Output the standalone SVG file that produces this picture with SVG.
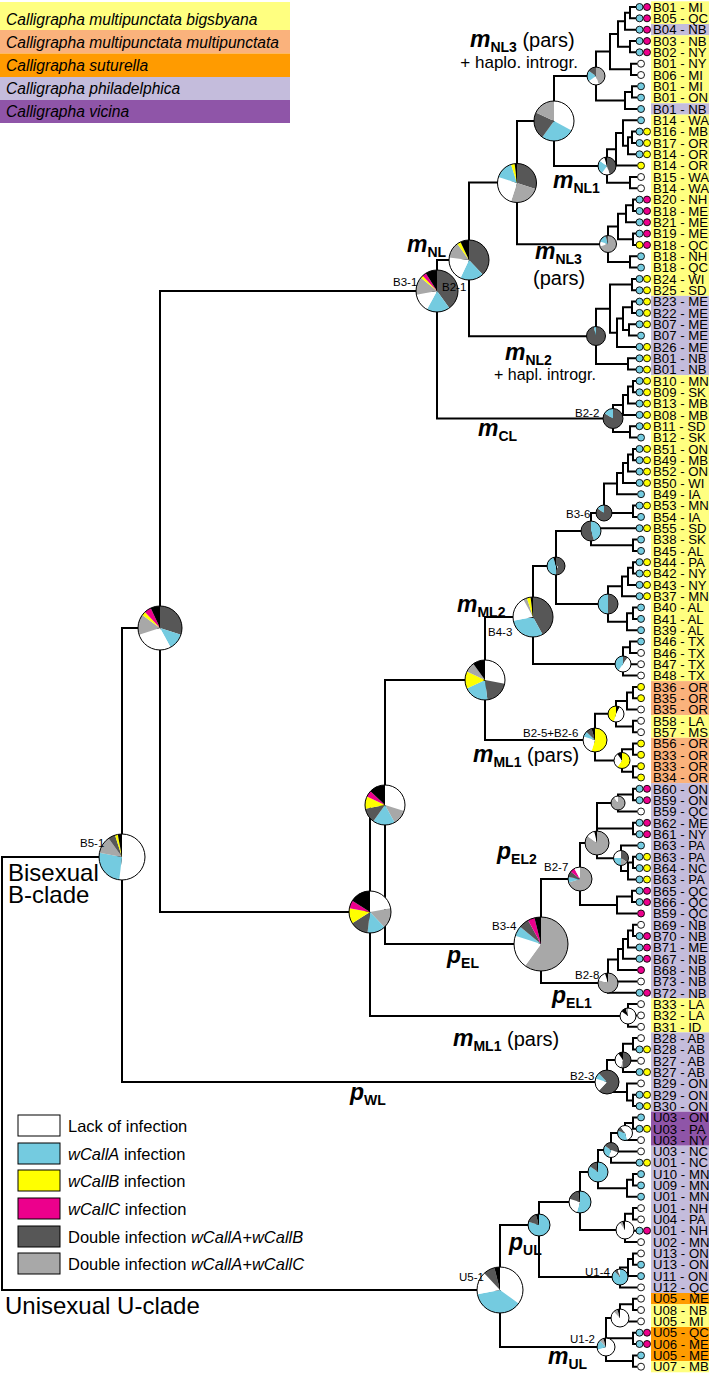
<svg xmlns="http://www.w3.org/2000/svg" width="709" height="1377" viewBox="0 0 709 1377">
<style>
text{font-family:"Liberation Sans",Arial,sans-serif;fill:#000}
.tl{font-size:13.2px}
.nl{font-size:11.5px}
.cm{font-size:23px;font-style:italic;font-weight:bold}
.cs{font-size:14px;font-style:normal;font-weight:bold}
.cp{font-size:20px}
.ch{font-size:17px}
.ch2{font-size:16px}
.big{font-size:24px}
.lg{font-size:16.5px}
.lt{font-size:15.6px;font-style:italic}
.i{font-style:italic}
.tree{fill:none;stroke:#000;stroke-width:2}
.pie circle{fill:none}
.w{stroke:#fff}.a{stroke:#74cbe0}.b{stroke:#ffff00}.c{stroke:#ec008c}.d{stroke:#575757}.g{stroke:#a8a8a8}.k{stroke:#000}
.pie .o{stroke:#000;stroke-width:1px}
.box{stroke:#000;stroke-width:1}
.tc{stroke:#000;stroke-width:0.9}
</style>
<defs>
<circle id="A" r="3.5" class="tc" fill="#74cbe0"/>
<circle id="B" r="3.5" class="tc" fill="#ffff00"/>
<circle id="C" r="3.5" class="tc" fill="#ec008c"/>
<circle id="W" r="3.5" class="tc" fill="#ffffff"/>
<g id="AB"><use href="#A"/><use href="#B" x="7.5"/></g>
<g id="AC"><use href="#A"/><use href="#C" x="7.5"/></g>
<g id="BC"><use href="#B"/><use href="#C" x="7.5"/></g>
</defs>

<g id="species-legend">
<rect x="0" y="2" width="290" height="28" fill="#ffff80"/>
<rect x="0" y="30" width="290" height="23.5" fill="#fab27c"/>
<rect x="0" y="53.5" width="290" height="23.5" fill="#ff9b00"/>
<rect x="0" y="77" width="290" height="23" fill="#c4bcdc"/>
<rect x="0" y="100" width="290" height="23" fill="#8f55a8"/>
<text class="lt" x="6" y="25">Calligrapha multipunctata bigsbyana</text>
<text class="lt" x="6" y="48">Calligrapha multipunctata multipunctata</text>
<text class="lt" x="6" y="71">Calligrapha suturella</text>
<text class="lt" x="6" y="94">Calligrapha philadelphica</text>
<text class="lt" x="6" y="117">Calligrapha vicina</text>
</g>

<g id="label-bands">
<rect x="651" y="1.3" width="58" height="22.7" fill="#ffff80"/>
<rect x="651" y="24" width="58" height="11.3" fill="#c4bcdc"/>
<rect x="651" y="35.3" width="58" height="68" fill="#ffff80"/>
<rect x="651" y="103.3" width="58" height="11.3" fill="#c4bcdc"/>
<rect x="651" y="114.6" width="58" height="181.3" fill="#ffff80"/>
<rect x="651" y="295.9" width="58" height="79.3" fill="#c4bcdc"/>
<rect x="651" y="375.2" width="58" height="305.9" fill="#ffff80"/>
<rect x="651" y="681.1" width="58" height="34" fill="#fab27c"/>
<rect x="651" y="715.1" width="58" height="22.7" fill="#ffff80"/>
<rect x="651" y="737.8" width="58" height="45.3" fill="#fab27c"/>
<rect x="651" y="783.1" width="58" height="215.3" fill="#c4bcdc"/>
<rect x="651" y="998.4" width="58" height="34" fill="#ffff80"/>
<rect x="651" y="1032.4" width="58" height="79.3" fill="#c4bcdc"/>
<rect x="651" y="1111.7" width="58" height="34" fill="#8f55a8"/>
<rect x="651" y="1145.7" width="58" height="147.3" fill="#c4bcdc"/>
<rect x="651" y="1293" width="58" height="11.3" fill="#ff9b00"/>
<rect x="651" y="1304.3" width="58" height="22.7" fill="#ffff80"/>
<rect x="651" y="1327" width="58" height="34" fill="#ff9b00"/>
<rect x="651" y="1361" width="58" height="11.3" fill="#ffff80"/>
</g>

<g id="connectors">
<path class="tree" d="M637 7H630V18.3H637M630 12.65H625V29.7H637M637 41H630V52.3H637M625 21.2H618V46.65H630M637 63.7H631V75H637M618 33.9H610V69.35H631M637 86.3H632V97.6H637M632 91.950H625V109H637M610 51.6H596V100.5H625
M637 131.6H632V143H637M632 137.3H628V154.3H637M637 120.3H623V145.8H628M623 133.05H616V165.6H637M637 177H630V188.3H637M616 149.3H607V182.65H630M596 76H554V166H607
M637 199.6H633V211H637M633 205.3H626V222.3H637M637 233.6H633V244.9H637M626 213.8H618V239.25H633M637 256.3H630V267.6H637M618 226.5H608V261.95H630M554 121H517V244.2H608
M637 278.9H632V290.3H637M637 301.6H632V312.9H637M637 324.3H629V335.6H637M632 307.25H623V329.95H629M623 318.6H617V346.9H637M632 284.6H610V332.75H617M637 358.3H628V369.6H637M610 308.7H596V363.95H628M517 182.6H469V336.3H596
M637 380.9H633V392.3H637M633 386.6H628V403.6H637M628 395.1H623V414.9H637M637 426.2H630V437.6H637M623 405H613V431.9H630M469 260H437V418.5H613
M437 291H160V912H370
M637 448.9H633V460.2H637M633 454.55H628V471.6H637M628 463.1H623V482.9H637M623 473H617V494.2H637M637 505.6H633V516.9H637M617 483.6H604V513H633M637 539.6H633V550.9H637M604 513H591V545.25H633M591 528.2H637
M637 562.2H633V573.5H637M633 567.85H628V584.9H637M628 576.4H622V596.2H637M637 607.5H633V618.9H637M633 613.2H627V630.2H637M622 586.3H608V621.7H627M591 531H556V604H608
M637 641.5H630V652.9H637M630 647.2H623V675.5H637M623 664.2H637M556 566H533V664H623
M637 686.9H633V698.2H637M633 692.55H627V709.5H637M637 720.8H633V732.2H637M627 701H616V726.5H633M637 743.5H633V754.8H637M637 766.2H633V777.5H637M633 749.15H622V771.85H633M616 713.75H595V760.5H622M533 617H485V740H595
M637 788.8H633V800.2H637M633 794.5H618V811.5H637M637 822.8H633V834.2H637M637 856.8H633V868.1H637M633 862.45H628V879.5H637M637 845.5H621V871H628M618 803H597V858.25H621M597 828.5H633
M637 890.8H632V902.1H637M632 896.45H617V913.5H637M597 843H580V905H617
M637 924.8H633V936.1H637M633 930.45H628V947.5H637M628 939H623V958.8H637M623 948.9H618V970.1H637M618 959.5H608V992.8H637M608 981.5H637M580 879H541V983H608M485 680H385V944H541
M637 1004.1H628V1026.8H637M628 1015.4H637M385 805H370V1016H628
M637 1038.1H633V1049.4H637M633 1043.75H623V1072.1H637M623 1060.8H637M637 1094.8H633V1106.1H637M637 1083.4H627V1100.45H633M623 1060H607V1092H627M160 628H122V1082H607M122 857H2V1290H500
M637 1117.4H633V1128.8H637M633 1123.1H625V1140.1H637M625 1133H611V1162.7H637M611 1151.4H637M637 1174.1H633V1185.4H637M633 1179.75H627V1196.7H637M611 1150H598V1188.2H627
M637 1208.1H633V1219.4H637M633 1213.75H625V1242.1H637M625 1230.7H637M598 1172H580V1230H625
M637 1253.4H633V1264.7H637M633 1259H628V1276.1H637M628 1267.6H620V1287.4H637M580 1202H539V1277H620
M637 1298.7H633V1310H637M633 1304.35H620V1321.4H637M637 1332.7H633V1344H637M637 1355.4H633V1366.7H637M620 1318H606V1361.05H633M606 1338.35H633M539 1225H500V1347H606"/>
</g>

<g id="pies">
<g id="node-B5-1" class="pie" transform="translate(122 857) rotate(-90)" stroke-width="23"><circle r="11.5" class="w" pathLength="100" stroke-dasharray="52 100"/><circle r="11.5" class="a" pathLength="100" stroke-dasharray="0 52 26 100"/><circle r="11.5" class="g" pathLength="100" stroke-dasharray="0 78 12 100"/><circle r="11.5" class="d" pathLength="100" stroke-dasharray="0 90 5 100"/><circle r="11.5" class="b" pathLength="100" stroke-dasharray="0 95 2 100"/><circle r="11.5" class="k" pathLength="100" stroke-dasharray="0 97 3 100"/><circle r="23" class="o"/></g>
<g id="node-B-upper" class="pie" transform="translate(160 628) rotate(-90)" stroke-width="22"><circle r="11" class="d" pathLength="100" stroke-dasharray="30 100"/><circle r="11" class="a" pathLength="100" stroke-dasharray="0 30 12 100"/><circle r="11" class="w" pathLength="100" stroke-dasharray="0 42 28 100"/><circle r="11" class="g" pathLength="100" stroke-dasharray="0 70 15 100"/><circle r="11" class="b" pathLength="100" stroke-dasharray="0 85 3 100"/><circle r="11" class="c" pathLength="100" stroke-dasharray="0 88 5 100"/><circle r="11" class="k" pathLength="100" stroke-dasharray="0 93 7 100"/><circle r="22" class="o"/></g>
<g id="node-B3-1" class="pie" transform="translate(437 291) rotate(-90)" stroke-width="21"><circle r="10.5" class="d" pathLength="100" stroke-dasharray="40 100"/><circle r="10.5" class="a" pathLength="100" stroke-dasharray="0 40 18 100"/><circle r="10.5" class="w" pathLength="100" stroke-dasharray="0 58 14 100"/><circle r="10.5" class="g" pathLength="100" stroke-dasharray="0 72 14 100"/><circle r="10.5" class="b" pathLength="100" stroke-dasharray="0 86 2 100"/><circle r="10.5" class="c" pathLength="100" stroke-dasharray="0 88 3 100"/><circle r="10.5" class="k" pathLength="100" stroke-dasharray="0 91 9 100"/><circle r="21" class="o"/></g>
<g id="node-B2-1" class="pie" transform="translate(469 260) rotate(-90)" stroke-width="20"><circle r="10" class="d" pathLength="100" stroke-dasharray="38 100"/><circle r="10" class="a" pathLength="100" stroke-dasharray="0 38 19 100"/><circle r="10" class="w" pathLength="100" stroke-dasharray="0 57 20 100"/><circle r="10" class="g" pathLength="100" stroke-dasharray="0 77 13 100"/><circle r="10" class="b" pathLength="100" stroke-dasharray="0 90 3 100"/><circle r="10" class="k" pathLength="100" stroke-dasharray="0 93 7 100"/><circle r="20" class="o"/></g>
<g id="node-nl-a" class="pie" transform="translate(517 183) rotate(-90)" stroke-width="19.5"><circle r="9.75" class="d" pathLength="100" stroke-dasharray="30 100"/><circle r="9.75" class="g" pathLength="100" stroke-dasharray="0 30 25 100"/><circle r="9.75" class="w" pathLength="100" stroke-dasharray="0 55 25 100"/><circle r="9.75" class="a" pathLength="100" stroke-dasharray="0 80 15 100"/><circle r="9.75" class="b" pathLength="100" stroke-dasharray="0 95 3 100"/><circle r="9.75" class="k" pathLength="100" stroke-dasharray="0 98 2 100"/><circle r="19.5" class="o"/></g>
<g id="node-nl3" class="pie" transform="translate(554 121) rotate(-90)" stroke-width="20"><circle r="10" class="w" pathLength="100" stroke-dasharray="33 100"/><circle r="10" class="a" pathLength="100" stroke-dasharray="0 33 27 100"/><circle r="10" class="d" pathLength="100" stroke-dasharray="0 60 22 100"/><circle r="10" class="g" pathLength="100" stroke-dasharray="0 82 18 100"/><circle r="20" class="o"/></g>
<g id="node-nl3-top" class="pie" transform="translate(596 76) rotate(-90)" stroke-width="9"><circle r="4.5" class="g" pathLength="100" stroke-dasharray="45 100"/><circle r="4.5" class="w" pathLength="100" stroke-dasharray="0 45 20 100"/><circle r="4.5" class="a" pathLength="100" stroke-dasharray="0 65 20 100"/><circle r="4.5" class="d" pathLength="100" stroke-dasharray="0 85 15 100"/><circle r="9" class="o"/></g>
<g id="node-nl1" class="pie" transform="translate(607 166) rotate(-90)" stroke-width="9"><circle r="4.5" class="d" pathLength="100" stroke-dasharray="45 100"/><circle r="4.5" class="w" pathLength="100" stroke-dasharray="0 45 15 100"/><circle r="4.5" class="a" pathLength="100" stroke-dasharray="0 60 25 100"/><circle r="4.5" class="w" pathLength="100" stroke-dasharray="0 85 10 100"/><circle r="4.5" class="k" pathLength="100" stroke-dasharray="0 95 5 100"/><circle r="9" class="o"/></g>
<g id="node-nl3-low" class="pie" transform="translate(608 244) rotate(-90)" stroke-width="8.5"><circle r="4.25" class="g" pathLength="100" stroke-dasharray="70 100"/><circle r="4.25" class="w" pathLength="100" stroke-dasharray="0 70 10 100"/><circle r="4.25" class="a" pathLength="100" stroke-dasharray="0 80 15 100"/><circle r="4.25" class="d" pathLength="100" stroke-dasharray="0 95 5 100"/><circle r="8.5" class="o"/></g>
<g id="node-nl2" class="pie" transform="translate(596 336) rotate(-90)" stroke-width="9.5"><circle r="4.75" class="d" pathLength="100" stroke-dasharray="96 100"/><circle r="4.75" class="a" pathLength="100" stroke-dasharray="0 96 4 100"/><circle r="9.5" class="o"/></g>
<g id="node-B2-2" class="pie" transform="translate(613 418.5) rotate(-90)" stroke-width="10"><circle r="5" class="d" pathLength="100" stroke-dasharray="84 100"/><circle r="5" class="a" pathLength="100" stroke-dasharray="0 84 16 100"/><circle r="10" class="o"/></g>
<g id="node-B3-6" class="pie" transform="translate(604 513) rotate(-90)" stroke-width="8"><circle r="4" class="d" pathLength="100" stroke-dasharray="85 100"/><circle r="4" class="a" pathLength="100" stroke-dasharray="0 85 15 100"/><circle r="8" class="o"/></g>
<g id="node-ml2-a" class="pie" transform="translate(591 531) rotate(-90)" stroke-width="10"><circle r="5" class="a" pathLength="100" stroke-dasharray="45 100"/><circle r="5" class="d" pathLength="100" stroke-dasharray="0 45 55 100"/><circle r="10" class="o"/></g>
<g id="node-ml2-b" class="pie" transform="translate(556 566) rotate(-90)" stroke-width="9"><circle r="4.5" class="d" pathLength="100" stroke-dasharray="50 100"/><circle r="4.5" class="a" pathLength="100" stroke-dasharray="0 50 45 100"/><circle r="4.5" class="k" pathLength="100" stroke-dasharray="0 95 5 100"/><circle r="9" class="o"/></g>
<g id="node-ml2-c" class="pie" transform="translate(608 604) rotate(-90)" stroke-width="10"><circle r="5" class="d" pathLength="100" stroke-dasharray="50 100"/><circle r="5" class="a" pathLength="100" stroke-dasharray="0 50 50 100"/><circle r="10" class="o"/></g>
<g id="node-tx" class="pie" transform="translate(623 664) rotate(-90)" stroke-width="8"><circle r="4" class="d" pathLength="100" stroke-dasharray="10 100"/><circle r="4" class="w" pathLength="100" stroke-dasharray="0 10 50 100"/><circle r="4" class="a" pathLength="100" stroke-dasharray="0 60 40 100"/><circle r="8" class="o"/></g>
<g id="node-B4-3" class="pie" transform="translate(533 617) rotate(-90)" stroke-width="20"><circle r="10" class="d" pathLength="100" stroke-dasharray="42 100"/><circle r="10" class="a" pathLength="100" stroke-dasharray="0 42 30 100"/><circle r="10" class="w" pathLength="100" stroke-dasharray="0 72 20 100"/><circle r="10" class="g" pathLength="100" stroke-dasharray="0 92 3 100"/><circle r="10" class="b" pathLength="100" stroke-dasharray="0 95 3 100"/><circle r="10" class="k" pathLength="100" stroke-dasharray="0 98 2 100"/><circle r="20" class="o"/></g>
<g id="node-ml" class="pie" transform="translate(485 680) rotate(-90)" stroke-width="20"><circle r="10" class="w" pathLength="100" stroke-dasharray="28 100"/><circle r="10" class="d" pathLength="100" stroke-dasharray="0 28 20 100"/><circle r="10" class="a" pathLength="100" stroke-dasharray="0 48 20 100"/><circle r="10" class="b" pathLength="100" stroke-dasharray="0 68 14 100"/><circle r="10" class="g" pathLength="100" stroke-dasharray="0 82 8 100"/><circle r="10" class="k" pathLength="100" stroke-dasharray="0 90 10 100"/><circle r="20" class="o"/></g>
<g id="node-ml1-a" class="pie" transform="translate(616 714) rotate(-90)" stroke-width="8"><circle r="4" class="k" pathLength="100" stroke-dasharray="8 100"/><circle r="4" class="w" pathLength="100" stroke-dasharray="0 8 47 100"/><circle r="4" class="b" pathLength="100" stroke-dasharray="0 55 45 100"/><circle r="8" class="o"/></g>
<g id="node-ml1-b" class="pie" transform="translate(622 760.5) rotate(-90)" stroke-width="8"><circle r="4" class="b" pathLength="100" stroke-dasharray="60 100"/><circle r="4" class="w" pathLength="100" stroke-dasharray="0 60 30 100"/><circle r="4" class="k" pathLength="100" stroke-dasharray="0 90 10 100"/><circle r="8" class="o"/></g>
<g id="node-B2-5-B2-6" class="pie" transform="translate(595 740) rotate(-90)" stroke-width="12"><circle r="6" class="b" pathLength="100" stroke-dasharray="55 100"/><circle r="6" class="w" pathLength="100" stroke-dasharray="0 55 25 100"/><circle r="6" class="a" pathLength="100" stroke-dasharray="0 80 7 100"/><circle r="6" class="d" pathLength="100" stroke-dasharray="0 87 8 100"/><circle r="6" class="k" pathLength="100" stroke-dasharray="0 95 5 100"/><circle r="12" class="o"/></g>
<g id="node-b-mid" class="pie" transform="translate(385 805) rotate(-90)" stroke-width="20"><circle r="10" class="w" pathLength="100" stroke-dasharray="30 100"/><circle r="10" class="g" pathLength="100" stroke-dasharray="0 30 12 100"/><circle r="10" class="a" pathLength="100" stroke-dasharray="0 42 18 100"/><circle r="10" class="d" pathLength="100" stroke-dasharray="0 60 12 100"/><circle r="10" class="b" pathLength="100" stroke-dasharray="0 72 10 100"/><circle r="10" class="c" pathLength="100" stroke-dasharray="0 82 5 100"/><circle r="10" class="k" pathLength="100" stroke-dasharray="0 87 13 100"/><circle r="20" class="o"/></g>
<g id="node-b-low" class="pie" transform="translate(370 912) rotate(-90)" stroke-width="21"><circle r="10.5" class="w" pathLength="100" stroke-dasharray="22 100"/><circle r="10.5" class="g" pathLength="100" stroke-dasharray="0 22 16 100"/><circle r="10.5" class="a" pathLength="100" stroke-dasharray="0 38 14 100"/><circle r="10.5" class="d" pathLength="100" stroke-dasharray="0 52 14 100"/><circle r="10.5" class="b" pathLength="100" stroke-dasharray="0 66 12 100"/><circle r="10.5" class="c" pathLength="100" stroke-dasharray="0 78 6 100"/><circle r="10.5" class="k" pathLength="100" stroke-dasharray="0 84 16 100"/><circle r="21" class="o"/></g>
<g id="node-el2-a" class="pie" transform="translate(618 803) rotate(-90)" stroke-width="7"><circle r="3.5" class="g" pathLength="100" stroke-dasharray="90 100"/><circle r="3.5" class="w" pathLength="100" stroke-dasharray="0 90 10 100"/><circle r="7" class="o"/></g>
<g id="node-el2-b" class="pie" transform="translate(621 858) rotate(-90)" stroke-width="7.5"><circle r="3.75" class="d" pathLength="100" stroke-dasharray="35 100"/><circle r="3.75" class="g" pathLength="100" stroke-dasharray="0 35 15 100"/><circle r="3.75" class="a" pathLength="100" stroke-dasharray="0 50 25 100"/><circle r="3.75" class="w" pathLength="100" stroke-dasharray="0 75 25 100"/><circle r="7.5" class="o"/></g>
<g id="node-el2" class="pie" transform="translate(597 843) rotate(-90)" stroke-width="12"><circle r="6" class="g" pathLength="100" stroke-dasharray="85 100"/><circle r="6" class="w" pathLength="100" stroke-dasharray="0 85 11 100"/><circle r="6" class="k" pathLength="100" stroke-dasharray="0 96 4 100"/><circle r="12" class="o"/></g>
<g id="node-B2-7" class="pie" transform="translate(580 879) rotate(-90)" stroke-width="12"><circle r="6" class="g" pathLength="100" stroke-dasharray="70 100"/><circle r="6" class="a" pathLength="100" stroke-dasharray="0 70 8 100"/><circle r="6" class="d" pathLength="100" stroke-dasharray="0 78 8 100"/><circle r="6" class="c" pathLength="100" stroke-dasharray="0 86 6 100"/><circle r="6" class="w" pathLength="100" stroke-dasharray="0 92 8 100"/><circle r="12" class="o"/></g>
<g id="node-B3-4" class="pie" transform="translate(541 944) rotate(-90)" stroke-width="27"><circle r="13.5" class="g" pathLength="100" stroke-dasharray="60 100"/><circle r="13.5" class="w" pathLength="100" stroke-dasharray="0 60 20 100"/><circle r="13.5" class="a" pathLength="100" stroke-dasharray="0 80 6 100"/><circle r="13.5" class="d" pathLength="100" stroke-dasharray="0 86 6 100"/><circle r="13.5" class="c" pathLength="100" stroke-dasharray="0 92 4 100"/><circle r="13.5" class="k" pathLength="100" stroke-dasharray="0 96 4 100"/><circle r="27" class="o"/></g>
<g id="node-B2-8" class="pie" transform="translate(608 983) rotate(-90)" stroke-width="10"><circle r="5" class="g" pathLength="100" stroke-dasharray="80 100"/><circle r="5" class="w" pathLength="100" stroke-dasharray="0 80 15 100"/><circle r="5" class="k" pathLength="100" stroke-dasharray="0 95 5 100"/><circle r="10" class="o"/></g>
<g id="node-ml1-low" class="pie" transform="translate(628 1016) rotate(-90)" stroke-width="8"><circle r="4" class="w" pathLength="100" stroke-dasharray="85 100"/><circle r="4" class="k" pathLength="100" stroke-dasharray="0 85 10 100"/><circle r="4" class="g" pathLength="100" stroke-dasharray="0 95 5 100"/><circle r="8" class="o"/></g>
<g id="node-wl-a" class="pie" transform="translate(623 1060) rotate(-90)" stroke-width="8"><circle r="4" class="d" pathLength="100" stroke-dasharray="50 100"/><circle r="4" class="g" pathLength="100" stroke-dasharray="0 50 5 100"/><circle r="4" class="w" pathLength="100" stroke-dasharray="0 55 35 100"/><circle r="4" class="k" pathLength="100" stroke-dasharray="0 90 10 100"/><circle r="8" class="o"/></g>
<g id="node-B2-3" class="pie" transform="translate(607 1082) rotate(-90)" stroke-width="12"><circle r="6" class="d" pathLength="100" stroke-dasharray="62 100"/><circle r="6" class="w" pathLength="100" stroke-dasharray="0 62 18 100"/><circle r="6" class="a" pathLength="100" stroke-dasharray="0 80 8 100"/><circle r="6" class="d" pathLength="100" stroke-dasharray="0 88 12 100"/><circle r="12" class="o"/></g>
<g id="node-u-a" class="pie" transform="translate(625 1133) rotate(-90)" stroke-width="7.5"><circle r="3.75" class="w" pathLength="100" stroke-dasharray="45 100"/><circle r="3.75" class="a" pathLength="100" stroke-dasharray="0 45 35 100"/><circle r="3.75" class="d" pathLength="100" stroke-dasharray="0 80 10 100"/><circle r="3.75" class="w" pathLength="100" stroke-dasharray="0 90 10 100"/><circle r="7.5" class="o"/></g>
<g id="node-u-b" class="pie" transform="translate(611 1150) rotate(-90)" stroke-width="7.5"><circle r="3.75" class="d" pathLength="100" stroke-dasharray="30 100"/><circle r="3.75" class="w" pathLength="100" stroke-dasharray="0 30 25 100"/><circle r="3.75" class="a" pathLength="100" stroke-dasharray="0 55 30 100"/><circle r="3.75" class="d" pathLength="100" stroke-dasharray="0 85 15 100"/><circle r="7.5" class="o"/></g>
<g id="node-u-c" class="pie" transform="translate(598 1172) rotate(-90)" stroke-width="10"><circle r="5" class="a" pathLength="100" stroke-dasharray="85 100"/><circle r="5" class="d" pathLength="100" stroke-dasharray="0 85 12 100"/><circle r="5" class="k" pathLength="100" stroke-dasharray="0 97 3 100"/><circle r="10" class="o"/></g>
<g id="node-u-d" class="pie" transform="translate(625 1230) rotate(-90)" stroke-width="9"><circle r="4.5" class="w" pathLength="100" stroke-dasharray="90 100"/><circle r="4.5" class="g" pathLength="100" stroke-dasharray="0 90 5 100"/><circle r="4.5" class="k" pathLength="100" stroke-dasharray="0 95 5 100"/><circle r="9" class="o"/></g>
<g id="node-u-e" class="pie" transform="translate(580 1202) rotate(-90)" stroke-width="11"><circle r="5.5" class="a" pathLength="100" stroke-dasharray="55 100"/><circle r="5.5" class="w" pathLength="100" stroke-dasharray="0 55 25 100"/><circle r="5.5" class="d" pathLength="100" stroke-dasharray="0 80 17 100"/><circle r="5.5" class="k" pathLength="100" stroke-dasharray="0 97 3 100"/><circle r="11" class="o"/></g>
<g id="node-U1-4" class="pie" transform="translate(620 1277) rotate(-90)" stroke-width="8"><circle r="4" class="a" pathLength="100" stroke-dasharray="88 100"/><circle r="4" class="d" pathLength="100" stroke-dasharray="0 88 7 100"/><circle r="4" class="w" pathLength="100" stroke-dasharray="0 95 5 100"/><circle r="8" class="o"/></g>
<g id="node-pUL" class="pie" transform="translate(539 1225) rotate(-90)" stroke-width="11"><circle r="5.5" class="a" pathLength="100" stroke-dasharray="80 100"/><circle r="5.5" class="d" pathLength="100" stroke-dasharray="0 80 15 100"/><circle r="5.5" class="k" pathLength="100" stroke-dasharray="0 95 5 100"/><circle r="11" class="o"/></g>
<g id="node-ul-a" class="pie" transform="translate(620 1318) rotate(-90)" stroke-width="9"><circle r="4.5" class="w" pathLength="100" stroke-dasharray="88 100"/><circle r="4.5" class="g" pathLength="100" stroke-dasharray="0 88 7 100"/><circle r="4.5" class="k" pathLength="100" stroke-dasharray="0 95 5 100"/><circle r="9" class="o"/></g>
<g id="node-U1-2" class="pie" transform="translate(606 1347) rotate(-90)" stroke-width="9"><circle r="4.5" class="w" pathLength="100" stroke-dasharray="70 100"/><circle r="4.5" class="a" pathLength="100" stroke-dasharray="0 70 18 100"/><circle r="4.5" class="g" pathLength="100" stroke-dasharray="0 88 7 100"/><circle r="4.5" class="k" pathLength="100" stroke-dasharray="0 95 5 100"/><circle r="9" class="o"/></g>
<g id="node-U5-1" class="pie" transform="translate(500 1290) rotate(-90)" stroke-width="23"><circle r="11.5" class="w" pathLength="100" stroke-dasharray="35 100"/><circle r="11.5" class="a" pathLength="100" stroke-dasharray="0 35 37 100"/><circle r="11.5" class="w" pathLength="100" stroke-dasharray="0 72 16 100"/><circle r="11.5" class="d" pathLength="100" stroke-dasharray="0 88 8 100"/><circle r="11.5" class="k" pathLength="100" stroke-dasharray="0 96 4 100"/><circle r="23" class="o"/></g>
</g>

<g id="tips">
<g id="tip-1"><use href="#AC" x="639.5" y="7"/><text class="tl" x="653" y="11.7">B01 - MI</text></g>
<g id="tip-2"><use href="#AC" x="639.5" y="18.3"/><text class="tl" x="653" y="23">B05 - QC</text></g>
<g id="tip-3"><use href="#AC" x="639.5" y="29.7"/><text class="tl" x="653" y="34.4">B04 - NB</text></g>
<g id="tip-4"><use href="#AC" x="639.5" y="41"/><text class="tl" x="653" y="45.7">B03 - NB</text></g>
<g id="tip-5"><use href="#AC" x="639.5" y="52.3"/><text class="tl" x="653" y="57">B02 - NY</text></g>
<g id="tip-6"><use href="#W" x="641" y="63.7"/><text class="tl" x="653" y="68.4">B01 - NY</text></g>
<g id="tip-7"><use href="#W" x="641" y="75"/><text class="tl" x="653" y="79.7">B06 - MI</text></g>
<g id="tip-8"><use href="#A" x="641" y="86.3"/><text class="tl" x="653" y="91">B01 - MI</text></g>
<g id="tip-9"><use href="#A" x="641" y="97.6"/><text class="tl" x="653" y="102.3">B01 - ON</text></g>
<g id="tip-10"><use href="#A" x="641" y="109"/><text class="tl" x="653" y="113.7">B01 - NB</text></g>
<g id="tip-11"><use href="#A" x="641" y="120.3"/><text class="tl" x="653" y="125">B14 - WA</text></g>
<g id="tip-12"><use href="#AB" x="639.5" y="131.6"/><text class="tl" x="653" y="136.3">B16 - MB</text></g>
<g id="tip-13"><use href="#AB" x="639.5" y="143"/><text class="tl" x="653" y="147.7">B17 - OR</text></g>
<g id="tip-14"><use href="#AB" x="639.5" y="154.3"/><text class="tl" x="653" y="159">B14 - OR</text></g>
<g id="tip-15"><use href="#B" x="641" y="165.6"/><text class="tl" x="653" y="170.3">B14 - OR</text></g>
<g id="tip-16"><use href="#W" x="641" y="177"/><text class="tl" x="653" y="181.7">B15 - WA</text></g>
<g id="tip-17"><use href="#W" x="641" y="188.3"/><text class="tl" x="653" y="193">B14 - WA</text></g>
<g id="tip-18"><use href="#AC" x="639.5" y="199.6"/><text class="tl" x="653" y="204.3">B20 - NH</text></g>
<g id="tip-19"><use href="#AC" x="639.5" y="211"/><text class="tl" x="653" y="215.7">B18 - ME</text></g>
<g id="tip-20"><use href="#AC" x="639.5" y="222.3"/><text class="tl" x="653" y="227">B21 - ME</text></g>
<g id="tip-21"><use href="#AC" x="639.5" y="233.6"/><text class="tl" x="653" y="238.3">B19 - ME</text></g>
<g id="tip-22"><use href="#BC" x="639.5" y="244.9"/><text class="tl" x="653" y="249.6">B18 - QC</text></g>
<g id="tip-23"><use href="#A" x="641" y="256.3"/><text class="tl" x="653" y="261">B18 - NH</text></g>
<g id="tip-24"><use href="#A" x="641" y="267.6"/><text class="tl" x="653" y="272.3">B18 - QC</text></g>
<g id="tip-25"><use href="#AB" x="639.5" y="278.9"/><text class="tl" x="653" y="283.6">B24 - WI</text></g>
<g id="tip-26"><use href="#AB" x="639.5" y="290.3"/><text class="tl" x="653" y="295">B25 - SD</text></g>
<g id="tip-27"><use href="#AB" x="639.5" y="301.6"/><text class="tl" x="653" y="306.3">B23 - ME</text></g>
<g id="tip-28"><use href="#AB" x="639.5" y="312.9"/><text class="tl" x="653" y="317.6">B22 - ME</text></g>
<g id="tip-29"><use href="#AB" x="639.5" y="324.3"/><text class="tl" x="653" y="329">B07 - ME</text></g>
<g id="tip-30"><use href="#A" x="641" y="335.6"/><text class="tl" x="653" y="340.3">B07 - ME</text></g>
<g id="tip-31"><use href="#AB" x="639.5" y="346.9"/><text class="tl" x="653" y="351.6">B26 - ME</text></g>
<g id="tip-32"><use href="#AB" x="639.5" y="358.3"/><text class="tl" x="653" y="363">B01 - NB</text></g>
<g id="tip-33"><use href="#AB" x="639.5" y="369.6"/><text class="tl" x="653" y="374.3">B01 - NB</text></g>
<g id="tip-34"><use href="#AB" x="639.5" y="380.9"/><text class="tl" x="653" y="385.6">B10 - MN</text></g>
<g id="tip-35"><use href="#AB" x="639.5" y="392.3"/><text class="tl" x="653" y="397">B09 - SK</text></g>
<g id="tip-36"><use href="#AB" x="639.5" y="403.6"/><text class="tl" x="653" y="408.3">B13 - MB</text></g>
<g id="tip-37"><use href="#AB" x="639.5" y="414.9"/><text class="tl" x="653" y="419.6">B08 - MB</text></g>
<g id="tip-38"><use href="#AB" x="639.5" y="426.2"/><text class="tl" x="653" y="430.9">B11 - SD</text></g>
<g id="tip-39"><use href="#A" x="641" y="437.6"/><text class="tl" x="653" y="442.3">B12 - SK</text></g>
<g id="tip-40"><use href="#AB" x="639.5" y="448.9"/><text class="tl" x="653" y="453.6">B51 - ON</text></g>
<g id="tip-41"><use href="#AB" x="639.5" y="460.2"/><text class="tl" x="653" y="464.9">B49 - MB</text></g>
<g id="tip-42"><use href="#AB" x="639.5" y="471.6"/><text class="tl" x="653" y="476.3">B52 - ON</text></g>
<g id="tip-43"><use href="#AB" x="639.5" y="482.9"/><text class="tl" x="653" y="487.6">B50 - WI</text></g>
<g id="tip-44"><use href="#A" x="641" y="494.2"/><text class="tl" x="653" y="498.9">B49 - IA</text></g>
<g id="tip-45"><use href="#AB" x="639.5" y="505.6"/><text class="tl" x="653" y="510.3">B53 - MN</text></g>
<g id="tip-46"><use href="#A" x="641" y="516.9"/><text class="tl" x="653" y="521.6">B54 - IA</text></g>
<g id="tip-47"><use href="#AB" x="639.5" y="528.2"/><text class="tl" x="653" y="532.9">B55 - SD</text></g>
<g id="tip-48"><use href="#A" x="641" y="539.6"/><text class="tl" x="653" y="544.3">B38 - SK</text></g>
<g id="tip-49"><use href="#A" x="641" y="550.9"/><text class="tl" x="653" y="555.6">B45 - AL</text></g>
<g id="tip-50"><use href="#AB" x="639.5" y="562.2"/><text class="tl" x="653" y="566.9">B44 - PA</text></g>
<g id="tip-51"><use href="#AB" x="639.5" y="573.5"/><text class="tl" x="653" y="578.2">B42 - NY</text></g>
<g id="tip-52"><use href="#AB" x="639.5" y="584.9"/><text class="tl" x="653" y="589.6">B43 - NY</text></g>
<g id="tip-53"><use href="#AB" x="639.5" y="596.2"/><text class="tl" x="653" y="600.9">B37 - MN</text></g>
<g id="tip-54"><use href="#A" x="641" y="607.5"/><text class="tl" x="653" y="612.2">B40 - AL</text></g>
<g id="tip-55"><use href="#A" x="641" y="618.9"/><text class="tl" x="653" y="623.6">B41 - AL</text></g>
<g id="tip-56"><use href="#A" x="641" y="630.2"/><text class="tl" x="653" y="634.9">B39 - AL</text></g>
<g id="tip-57"><use href="#A" x="641" y="641.5"/><text class="tl" x="653" y="646.2">B46 - TX</text></g>
<g id="tip-58"><use href="#W" x="641" y="652.9"/><text class="tl" x="653" y="657.6">B46 - TX</text></g>
<g id="tip-59"><use href="#W" x="641" y="664.2"/><text class="tl" x="653" y="668.9">B47 - TX</text></g>
<g id="tip-60"><use href="#W" x="641" y="675.5"/><text class="tl" x="653" y="680.2">B48 - TX</text></g>
<g id="tip-61"><use href="#B" x="641" y="686.9"/><text class="tl" x="653" y="691.6">B36 - OR</text></g>
<g id="tip-62"><use href="#B" x="641" y="698.2"/><text class="tl" x="653" y="702.9">B35 - OR</text></g>
<g id="tip-63"><use href="#W" x="641" y="709.5"/><text class="tl" x="653" y="714.2">B35 - OR</text></g>
<g id="tip-64"><use href="#W" x="641" y="720.8"/><text class="tl" x="653" y="725.5">B58 - LA</text></g>
<g id="tip-65"><use href="#W" x="641" y="732.2"/><text class="tl" x="653" y="736.9">B57 - MS</text></g>
<g id="tip-66"><use href="#B" x="641" y="743.5"/><text class="tl" x="653" y="748.2">B56 - OR</text></g>
<g id="tip-67"><use href="#B" x="641" y="754.8"/><text class="tl" x="653" y="759.5">B33 - OR</text></g>
<g id="tip-68"><use href="#B" x="641" y="766.2"/><text class="tl" x="653" y="770.9">B33 - OR</text></g>
<g id="tip-69"><use href="#B" x="641" y="777.5"/><text class="tl" x="653" y="782.2">B34 - OR</text></g>
<g id="tip-70"><use href="#AC" x="639.5" y="788.8"/><text class="tl" x="653" y="793.5">B60 - ON</text></g>
<g id="tip-71"><use href="#AC" x="639.5" y="800.2"/><text class="tl" x="653" y="804.9">B59 - ON</text></g>
<g id="tip-72"><use href="#W" x="641" y="811.5"/><text class="tl" x="653" y="816.2">B59 - QC</text></g>
<g id="tip-73"><use href="#AC" x="639.5" y="822.8"/><text class="tl" x="653" y="827.5">B62 - ME</text></g>
<g id="tip-74"><use href="#AC" x="639.5" y="834.2"/><text class="tl" x="653" y="838.9">B61 - NY</text></g>
<g id="tip-75"><use href="#A" x="641" y="845.5"/><text class="tl" x="653" y="850.2">B63 - PA</text></g>
<g id="tip-76"><use href="#AB" x="639.5" y="856.8"/><text class="tl" x="653" y="861.5">B63 - PA</text></g>
<g id="tip-77"><use href="#AB" x="639.5" y="868.1"/><text class="tl" x="653" y="872.8">B64 - NC</text></g>
<g id="tip-78"><use href="#AB" x="639.5" y="879.5"/><text class="tl" x="653" y="884.2">B63 - PA</text></g>
<g id="tip-79"><use href="#AC" x="639.5" y="890.8"/><text class="tl" x="653" y="895.5">B65 - QC</text></g>
<g id="tip-80"><use href="#AC" x="639.5" y="902.1"/><text class="tl" x="653" y="906.8">B66 - QC</text></g>
<g id="tip-81"><use href="#C" x="641" y="913.5"/><text class="tl" x="653" y="918.2">B59 - QC</text></g>
<g id="tip-82"><use href="#W" x="641" y="924.8"/><text class="tl" x="653" y="929.5">B69 - NB</text></g>
<g id="tip-83"><use href="#AC" x="639.5" y="936.1"/><text class="tl" x="653" y="940.8">B70 - NB</text></g>
<g id="tip-84"><use href="#AC" x="639.5" y="947.5"/><text class="tl" x="653" y="952.2">B71 - ME</text></g>
<g id="tip-85"><use href="#AC" x="639.5" y="958.8"/><text class="tl" x="653" y="963.5">B67 - NB</text></g>
<g id="tip-86"><use href="#C" x="641" y="970.1"/><text class="tl" x="653" y="974.8">B68 - NB</text></g>
<g id="tip-87"><use href="#W" x="641" y="981.5"/><text class="tl" x="653" y="986.2">B73 - NB</text></g>
<g id="tip-88"><use href="#AC" x="639.5" y="992.8"/><text class="tl" x="653" y="997.5">B72 - NB</text></g>
<g id="tip-89"><use href="#W" x="641" y="1004.1"/><text class="tl" x="653" y="1008.8">B33 - LA</text></g>
<g id="tip-90"><use href="#W" x="641" y="1015.4"/><text class="tl" x="653" y="1020.1">B32 - LA</text></g>
<g id="tip-91"><use href="#W" x="641" y="1026.8"/><text class="tl" x="653" y="1031.5">B31 - ID</text></g>
<g id="tip-92"><use href="#W" x="641" y="1038.1"/><text class="tl" x="653" y="1042.8">B28 - AB</text></g>
<g id="tip-93"><use href="#AB" x="639.5" y="1049.4"/><text class="tl" x="653" y="1054.1">B28 - AB</text></g>
<g id="tip-94"><use href="#W" x="641" y="1060.8"/><text class="tl" x="653" y="1065.5">B27 - AB</text></g>
<g id="tip-95"><use href="#AB" x="639.5" y="1072.1"/><text class="tl" x="653" y="1076.8">B27 - AB</text></g>
<g id="tip-96"><use href="#W" x="641" y="1083.4"/><text class="tl" x="653" y="1088.1">B29 - ON</text></g>
<g id="tip-97"><use href="#AB" x="639.5" y="1094.8"/><text class="tl" x="653" y="1099.5">B29 - ON</text></g>
<g id="tip-98"><use href="#AB" x="639.5" y="1106.1"/><text class="tl" x="653" y="1110.8">B30 - ON</text></g>
<g id="tip-99"><use href="#A" x="641" y="1117.4"/><text class="tl" x="653" y="1122.1">U03 - ON</text></g>
<g id="tip-100"><use href="#AB" x="639.5" y="1128.8"/><text class="tl" x="653" y="1133.5">U03 - PA</text></g>
<g id="tip-101"><use href="#W" x="641" y="1140.1"/><text class="tl" x="653" y="1144.8">U03 - NY</text></g>
<g id="tip-102"><use href="#W" x="641" y="1151.4"/><text class="tl" x="653" y="1156.1">U03 - NC</text></g>
<g id="tip-103"><use href="#AB" x="639.5" y="1162.7"/><text class="tl" x="653" y="1167.4">U01 - NC</text></g>
<g id="tip-104"><use href="#A" x="641" y="1174.1"/><text class="tl" x="653" y="1178.8">U10 - MN</text></g>
<g id="tip-105"><use href="#A" x="641" y="1185.4"/><text class="tl" x="653" y="1190.1">U09 - MN</text></g>
<g id="tip-106"><use href="#A" x="641" y="1196.7"/><text class="tl" x="653" y="1201.4">U01 - MN</text></g>
<g id="tip-107"><use href="#W" x="641" y="1208.1"/><text class="tl" x="653" y="1212.8">U01 - NH</text></g>
<g id="tip-108"><use href="#W" x="641" y="1219.4"/><text class="tl" x="653" y="1224.1">U04 - PA</text></g>
<g id="tip-109"><use href="#AC" x="639.5" y="1230.7"/><text class="tl" x="653" y="1235.4">U01 - NH</text></g>
<g id="tip-110"><use href="#W" x="641" y="1242.1"/><text class="tl" x="653" y="1246.8">U02 - MN</text></g>
<g id="tip-111"><use href="#W" x="641" y="1253.4"/><text class="tl" x="653" y="1258.1">U13 - ON</text></g>
<g id="tip-112"><use href="#A" x="641" y="1264.7"/><text class="tl" x="653" y="1269.4">U13 - ON</text></g>
<g id="tip-113"><use href="#A" x="641" y="1276.1"/><text class="tl" x="653" y="1280.8">U11 - ON</text></g>
<g id="tip-114"><use href="#W" x="641" y="1287.4"/><text class="tl" x="653" y="1292.1">U12 - QC</text></g>
<g id="tip-115"><use href="#W" x="641" y="1298.7"/><text class="tl" x="653" y="1303.4">U05 - ME</text></g>
<g id="tip-116"><use href="#W" x="641" y="1310"/><text class="tl" x="653" y="1314.7">U08 - NB</text></g>
<g id="tip-117"><use href="#W" x="641" y="1321.4"/><text class="tl" x="653" y="1326.1">U05 - MI</text></g>
<g id="tip-118"><use href="#AC" x="639.5" y="1332.7"/><text class="tl" x="653" y="1337.4">U05 - QC</text></g>
<g id="tip-119"><use href="#AC" x="639.5" y="1344"/><text class="tl" x="653" y="1348.7">U06 - ME</text></g>
<g id="tip-120"><use href="#A" x="641" y="1355.4"/><text class="tl" x="653" y="1360.1">U05 - ME</text></g>
<g id="tip-121"><use href="#W" x="641" y="1366.7"/><text class="tl" x="653" y="1371.4">U07 - MB</text></g>
</g>

<g id="node-labels">
<text class="nl" x="80" y="847">B5-1</text>
<text class="nl" x="393" y="286">B3-1</text>
<text class="nl" x="442" y="291">B2-1</text>
<text class="nl" x="575" y="417">B2-2</text>
<text class="nl" x="566" y="518">B3-6</text>
<text class="nl" x="488" y="636">B4-3</text>
<text class="nl" x="523" y="737">B2-5+B2-6</text>
<text class="nl" x="544" y="871">B2-7</text>
<text class="nl" x="492" y="930">B3-4</text>
<text class="nl" x="575" y="979">B2-8</text>
<text class="nl" x="570" y="1080">B2-3</text>
<text class="nl" x="585" y="1276">U1-4</text>
<text class="nl" x="459" y="1281">U5-1</text>
<text class="nl" x="570" y="1343">U1-2</text>
</g>

<g id="clade-labels">
<text class="cp" x="470" y="47"><tspan class="cm">m</tspan><tspan class="cs" dy="5">NL3</tspan><tspan dy="-5"> (pars)</tspan></text>
<text class="ch" x="578" y="68" text-anchor="end">+ haplo. introgr.</text>
<text class="cm" x="553" y="188">m<tspan class="cs" dy="5">NL1</tspan></text>
<text class="cm" x="535" y="259">m<tspan class="cs" dy="5">NL3</tspan></text>
<text class="cp" x="533" y="285">(pars)</text>
<text class="cm" x="407" y="252">m<tspan class="cs" dy="5">NL</tspan></text>
<text class="cm" x="505" y="360">m<tspan class="cs" dy="5">NL2</tspan></text>
<text class="ch2" x="494" y="380">+ hapl. introgr.</text>
<text class="cm" x="478" y="436">m<tspan class="cs" dy="5">CL</tspan></text>
<text class="cm" x="457" y="612">m<tspan class="cs" dy="5">ML2</tspan></text>
<text class="cp" x="473" y="762"><tspan class="cm">m</tspan><tspan class="cs" dy="5">ML1</tspan><tspan dy="-5"> (pars)</tspan></text>
<text class="cm" x="497" y="859">p<tspan class="cs" dy="5">EL2</tspan></text>
<text class="cm" x="447" y="963">p<tspan class="cs" dy="5">EL</tspan></text>
<text class="cm" x="552" y="1003">p<tspan class="cs" dy="5">EL1</tspan></text>
<text class="cp" x="453" y="1046"><tspan class="cm">m</tspan><tspan class="cs" dy="5">ML1</tspan><tspan dy="-5"> (pars)</tspan></text>
<text class="cm" x="350" y="1100">p<tspan class="cs" dy="5">WL</tspan></text>
<text class="cm" x="509" y="1250">p<tspan class="cs" dy="5">UL</tspan></text>
<text class="cm" x="548" y="1364">m<tspan class="cs" dy="5">UL</tspan></text>
<text class="big" x="8" y="881">Bisexual</text>
<text class="big" x="8" y="903">B-clade</text>
<text class="big" x="5" y="1314">Unisexual U-clade</text>
</g>

<g id="infection-legend">
<rect class="box" x="18" y="1115" width="42" height="21" fill="#ffffff"/>
<rect class="box" x="18" y="1143" width="42" height="21" fill="#74cbe0"/>
<rect class="box" x="18" y="1170" width="42" height="21" fill="#ffff00"/>
<rect class="box" x="18" y="1198" width="42" height="21" fill="#ec008c"/>
<rect class="box" x="18" y="1226" width="42" height="21" fill="#575757"/>
<rect class="box" x="18" y="1253" width="42" height="21" fill="#a8a8a8"/>
<text class="lg" x="68" y="1131.5">Lack of infection</text>
<text class="lg" x="68" y="1159.5"><tspan class="i">wCallA</tspan> infection</text>
<text class="lg" x="68" y="1186.5"><tspan class="i">wCallB</tspan> infection</text>
<text class="lg" x="68" y="1214.5"><tspan class="i">wCallC</tspan> infection</text>
<text class="lg" x="68" y="1242.5">Double infection <tspan class="i">wCallA+wCallB</tspan></text>
<text class="lg" x="68" y="1269.5">Double infection <tspan class="i">wCallA+wCallC</tspan></text>
</g>
</svg>
